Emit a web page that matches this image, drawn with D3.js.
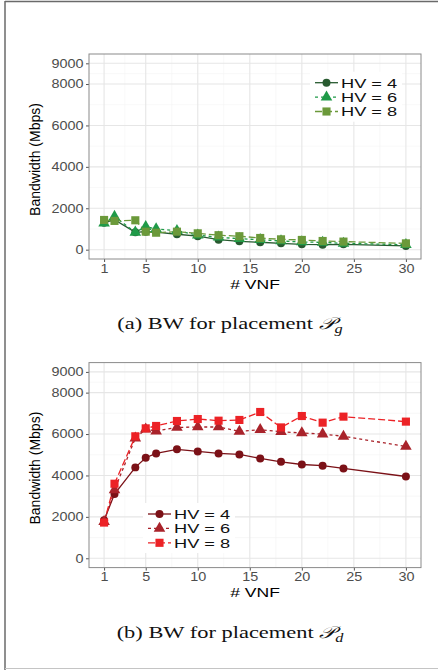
<!DOCTYPE html>
<html>
<head>
<meta charset="utf-8">
<script src="https://cdn.jsdelivr.net/npm/d3@7"></script>
<style>
  body { margin: 0; background: #fff; }
  svg { display: block; }
</style>
</head>
<body>
<svg id="chart" width="438" height="670"></svg>
<script>
const vnf = [1, 2, 4, 5, 6, 8, 10, 12, 14, 16, 18, 20, 22, 24, 30]
const hvLabels = ['HV = 4', 'HV = 6', 'HV = 8']
const xTicks = [1, 5, 10, 15, 20, 25, 30]
const xMinor = [3, 7.5, 12.5, 17.5, 22.5, 27.5]
const yTicks = [0, 2000, 4000, 6000, 8000, 9000]
const yMinor = [1000, 3000, 5000, 7000, 8500]

// placement P_g
const bwGHv4 = [1300, 1450, 840, 870, 850, 745, 650, 485, 405, 360, 306, 260, 240, 260, 180]
const bwGHv6 = [1280, 1600, 840, 1110, 1000, 920, 700, 600, 530, 480, 420, 370, 355, 306, 240]
const bwGHv8 = [1435, 1390, 1420, 870, 820, 870, 790, 700, 650, 565, 500, 470, 420, 390, 306]

// placement P_d
const bwDHv4 = [1840, 3100, 4390, 4855, 5065, 5260, 5160, 5065, 5015, 4820, 4660, 4530, 4470, 4340, 3950]
const bwDHv6 = [1770, 3300, 5800, 6240, 6145, 6320, 6340, 6340, 6130, 6210, 6110, 6050, 6000, 5890, 5400]
const bwDHv8 = [1725, 3600, 5890, 6275, 6390, 6630, 6725, 6645, 6680, 7065, 6320, 6870, 6550, 6840, 6600]

const greens = ['#285a30', '#1f9a48', '#6b993a']
const reds = ['#7b1117', '#a9232b', '#ec2226']
const dashes = [null, '3,3', '7,3']
const shapes = [d3.symbolCircle, d3.symbolTriangle, d3.symbolSquare]
const shapeSizes = [50, 58, 66]

const svg = d3.select('#chart')
const box = { left: 89, right: 421, height: 205 }

// page frame
svg.append('line').attr('x1', 5).attr('x2', 438).attr('y1', 1.5).attr('y2', 1.5)
  .attr('stroke', '#6a6a6a').attr('stroke-width', 1.5)
svg.append('line').attr('x1', 5).attr('x2', 5).attr('y1', 1).attr('y2', 670)
  .attr('stroke', '#6a6a6a').attr('stroke-width', 1.5)
svg.append('line').attr('x1', 5).attr('x2', 438).attr('y1', 668.5).attr('y2', 668.5)
  .attr('stroke', '#c4c4c4').attr('stroke-width', 1)

const stretchedText = (g, x, y, sx) => g.append('text')
  .attr('transform', `translate(${x},${y}) scale(${sx},1)`)

const drawPanel = ({ top, series, colors, legendAt, caption, sub }) => {
  const bottom = top + box.height
  const x = d3.scaleLinear().domain([1 - 1.45, 30 + 1.45]).range([box.left, box.right])
  const y = d3.scaleLinear().domain([-450, 9450]).range([bottom, top])
  const g = svg.append('g')

  // grid
  g.selectAll('.ymin').data(yMinor).join('line')
    .attr('x1', box.left).attr('x2', box.right)
    .attr('y1', (d) => y(d)).attr('y2', (d) => y(d))
    .attr('stroke', '#f3f3f3').attr('stroke-width', 0.6)
  g.selectAll('.xmin').data(xMinor).join('line')
    .attr('y1', top).attr('y2', bottom)
    .attr('x1', (d) => x(d)).attr('x2', (d) => x(d))
    .attr('stroke', '#f3f3f3').attr('stroke-width', 0.6)
  g.selectAll('.ymaj').data(yTicks).join('line')
    .attr('x1', box.left).attr('x2', box.right)
    .attr('y1', (d) => y(d)).attr('y2', (d) => y(d))
    .attr('stroke', '#e6e6e6').attr('stroke-width', 1.1)
  g.selectAll('.xmaj').data(xTicks).join('line')
    .attr('y1', top).attr('y2', bottom)
    .attr('x1', (d) => x(d)).attr('x2', (d) => x(d))
    .attr('stroke', '#e6e6e6').attr('stroke-width', 1.1)

  // axes
  const yAxis = g.append('g').attr('transform', `translate(${box.left},0)`)
    .call(d3.axisLeft(y).tickValues(yTicks).tickSize(3).tickPadding(2).tickFormat(d3.format('d')))
  const xAxis = g.append('g').attr('transform', `translate(0,${bottom})`)
    .call(d3.axisBottom(x).tickValues(xTicks).tickSize(3).tickPadding(2))
  ;[yAxis, xAxis].forEach((a) => {
    a.select('.domain').remove()
    a.selectAll('.tick line').attr('stroke', '#555')
    a.selectAll('.tick text').attr('fill', '#4d4d4d')
      .style('font', '12px "Liberation Sans", Arial, sans-serif')
  })
  yAxis.selectAll('.tick text').attr('transform', 'scale(1.2,1)').attr('x', -5.5 / 1.2)
  xAxis.selectAll('.tick text').attr('transform', 'scale(1.2,1)')

  // panel border
  g.append('rect').attr('x', box.left).attr('y', top)
    .attr('width', box.right - box.left).attr('height', box.height)
    .attr('fill', 'none').attr('stroke', '#8a8a8a').attr('stroke-width', 1)

  // lines and points
  const line = d3.line().x((d, i) => x(vnf[i])).y((d) => y(d))
  series.forEach((vals, k) => {
    g.append('path').datum(vals).attr('d', line)
      .attr('fill', 'none').attr('stroke', colors[k]).attr('stroke-width', 1.3)
      .attr('stroke-dasharray', dashes[k])
  })
  series.forEach((vals, k) => {
    g.selectAll(null).data(vals).join('path')
      .attr('transform', (d, i) => `translate(${x(vnf[i])},${y(d)})`)
      .attr('d', d3.symbol(shapes[k], shapeSizes[k]))
      .attr('fill', colors[k])
  })

  // legend
  const lg = g.append('g').attr('transform', `translate(${legendAt[0]},${legendAt[1]})`)
  lg.append('rect').attr('x', -5).attr('y', -11).attr('width', 92).attr('height', 50).attr('fill', '#fff')
  hvLabels.forEach((label, k) => {
    const ly = k * 14.4
    lg.append('line').attr('x1', 0).attr('x2', 23).attr('y1', ly).attr('y2', ly)
      .attr('stroke', colors[k]).attr('stroke-width', 1.3).attr('stroke-dasharray', dashes[k])
    lg.append('path').attr('transform', `translate(11.5,${ly})`)
      .attr('d', d3.symbol(shapes[k], shapeSizes[k])).attr('fill', colors[k])
    stretchedText(lg, 26, ly + 4.9, 1.35).text(label)
      .style('font', '13.5px "Liberation Sans", Arial, sans-serif').attr('fill', '#111')
  })

  // axis titles
  stretchedText(g, (box.left + box.right) / 2, bottom + 29.5, 1.3).text('# VNF')
    .attr('text-anchor', 'middle').style('font', '13.5px "Liberation Sans", Arial, sans-serif')
  g.append('text').attr('transform', `translate(40,${(top + bottom) / 2 + 3}) rotate(-90)`)
    .attr('text-anchor', 'middle').text('Bandwidth (Mbps)')
    .style('font', '14px "Liberation Sans", Arial, sans-serif')

  // caption
  const cap = stretchedText(g, 230, bottom + 70, 1.36).attr('text-anchor', 'middle')
    .style('font', '16.5px "Liberation Serif", "Times New Roman", serif').attr('fill', '#111')
  cap.append('tspan').text(caption + ' ')
  cap.append('tspan').text('𝒫').style('font-family', '"DejaVu Serif", "Noto Sans", serif')
    .style('font-style', 'italic')
  cap.append('tspan').text(sub).attr('dy', 4).style('font-size', '12px').style('font-style', 'italic')
}

drawPanel({
  top: 54, series: [bwGHv4, bwGHv6, bwGHv8], colors: greens,
  legendAt: [315, 82.7], caption: '(a) BW for placement', sub: 'g',
})
drawPanel({
  top: 362.6, series: [bwDHv4, bwDHv6, bwDHv8], colors: reds,
  legendAt: [148, 514], caption: '(b) BW for placement', sub: 'd',
})
</script>
</body>
</html>
